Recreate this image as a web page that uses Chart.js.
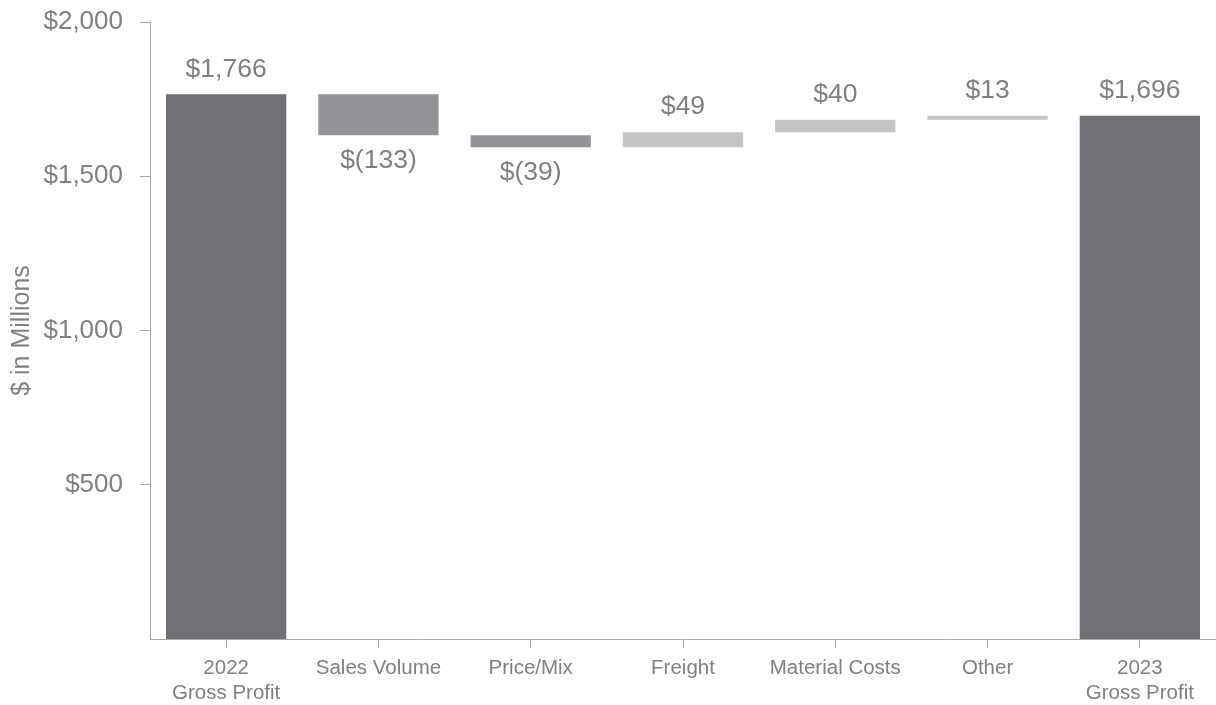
<!DOCTYPE html>
<html>
<head>
<meta charset="utf-8">
<script src="https://cdn.jsdelivr.net/npm/chart.js@4/dist/chart.umd.min.js"></script>
<style>
  html, body { margin: 0; padding: 0; background: #fff; overflow: hidden; }
  #wrap { width: 1216px; height: 705px; }
</style>
</head>
<body>
<div id="wrap"><canvas id="chart"></canvas></div>
<script>
const categories = [['2022', 'Gross Profit'], 'Sales Volume', 'Price/Mix', 'Freight', 'Material Costs', 'Other', ['2023', 'Gross Profit']];
const barLow = [0, 1633, 1594, 1594, 1643, 1683, 0];
const barHigh = [1766, 1766, 1633, 1643, 1683, 1696, 1696];
const changeValues = [1766, -133, -39, 49, 40, 13, 1696];
const barKinds = ['total', 'down', 'down', 'up', 'up', 'up', 'total'];
const yTicks = [500, 1000, 1500, 2000];

const kindColors = { total: '#717175', down: '#949498', up: '#c4c5c7' };
const textColor = '#808084';
const axisColor = '#a8a8a8';
const fontFamily = '"Liberation Sans", Arial, sans-serif';

const money = v => v < 0
  ? '$(' + Math.abs(v).toLocaleString('en-US') + ')'
  : '$' + v.toLocaleString('en-US');

// draws the value labels above (or below, for decreases) each bar
const valueLabels = {
  id: 'valueLabels',
  afterDatasetsDraw(chart) {
    const ctx = chart.ctx;
    const meta = chart.getDatasetMeta(0);
    ctx.save();
    ctx.font = '26.5px ' + fontFamily;
    ctx.fillStyle = textColor;
    ctx.textAlign = 'center';
    ctx.textBaseline = 'middle';
    meta.data.forEach((bar, i) => {
      const v = changeValues[i];
      const top = Math.min(bar.y, bar.base);
      const bottom = Math.max(bar.y, bar.base);
      const y = v < 0 ? bottom + 25 : top - 25;
      ctx.fillText(money(v), bar.x, y);
    });
    ctx.restore();
  }
};

new Chart(document.getElementById('chart'), {
  type: 'bar',
  data: {
    labels: categories,
    datasets: [{
      data: barLow.map((lo, i) => [lo, barHigh[i]]),
      backgroundColor: barKinds.map(k => kindColors[k]),
      borderWidth: 0,
      barPercentage: 0.79,
      categoryPercentage: 1
    }]
  },
  options: {
    responsive: true,
    maintainAspectRatio: false,
    animation: false,
    layout: { padding: { top: 22, right: -3, left: 0, bottom: 0 } },
    plugins: { legend: { display: false }, tooltip: { enabled: false } },
    scales: {
      x: {
        grid: { display: true, drawOnChartArea: false, offset: false, tickLength: 9, color: axisColor },
        border: { display: true, color: axisColor, width: 1 },
        ticks: {
          color: textColor,
          font: { family: fontFamily, size: 20.5, lineHeight: 1.22 },
          padding: 8,
          maxRotation: 0,
          autoSkip: false
        },
        afterFit: s => { s.height = 66; s.paddingLeft = 0; s.paddingRight = 0; }
      },
      y: {
        min: 0,
        max: 2000,
        afterBuildTicks: s => { s.ticks = yTicks.map(v => ({ value: v })); },
        grid: { display: true, drawOnChartArea: false, tickLength: 10, color: axisColor },
        border: { display: true, color: axisColor, width: 1 },
        ticks: {
          color: textColor,
          font: { family: fontFamily, size: 26 },
          padding: 17,
          callback: v => money(v)
        },
        title: {
          display: true,
          text: '$ in Millions',
          color: textColor,
          font: { family: fontFamily, size: 25 },
          padding: { top: 7, bottom: 0 }
        },
        afterFit: s => { s.width = 150; s.paddingTop = 0; s.paddingBottom = 0; }
      }
    }
  },
  plugins: [valueLabels]
});
</script>
</body>
</html>
